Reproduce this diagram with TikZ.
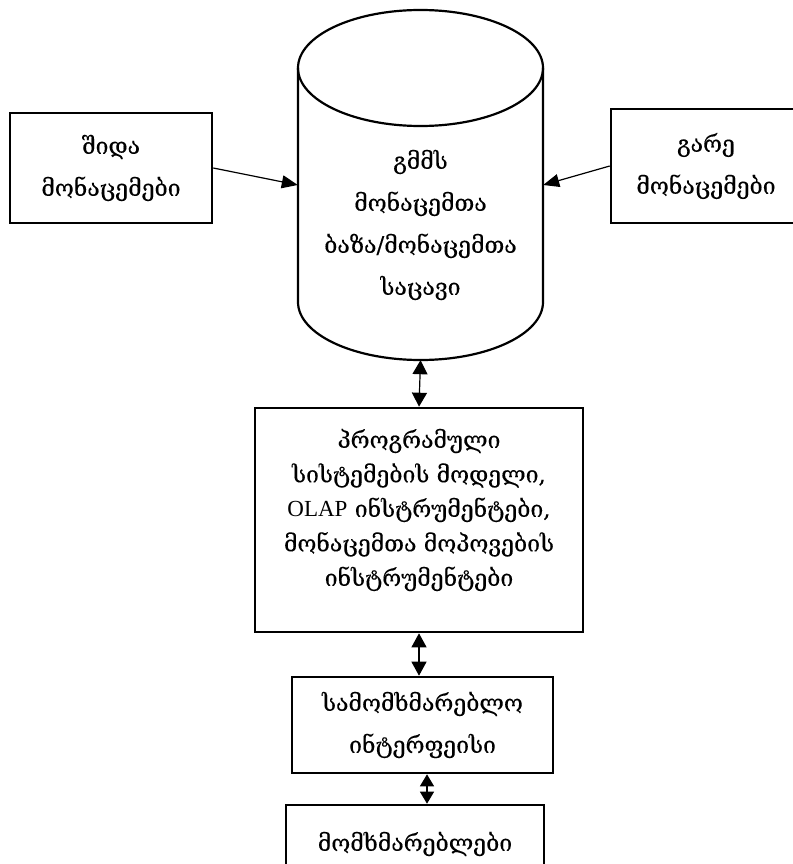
\documentclass[tikz,border=0pt]{standalone}
\usepackage{fontspec}
\setmainfont{DejaVu Serif}[FakeBold=0.3]
\newfontfamily\latinfont{Liberation Serif}
\usetikzlibrary{arrows.meta}
\begin{document}
\begin{tikzpicture}[x=1pt,y=-1pt,
  box/.style={draw, line width=2.6pt, inner sep=0pt, align=center},
  txt/.style={align=center, inner sep=0pt, font=\fontsize{23}{42}\selectfont},
  tight/.style={align=center, inner sep=0pt, font=\fontsize{23}{34.5}\selectfont},
  vtip/.tip={Triangle[length=14pt,width=15pt]},
  stip/.tip={Triangle[length=12pt,width=14pt]},
  htip/.tip={Triangle[length=16pt,width=13pt]},
  link/.style={line width=1.2pt, -htip},
  both/.style={line width=1.2pt, vtip-vtip},
  shortboth/.style={line width=1.2pt, stip-stip}]
\useasboundingbox (0,0) rectangle (792,864);

% side data sources
\node[box, txt, minimum width=202pt, minimum height=110pt] (inner) at (111,168) {შიდა\\მონაცემები};
\node[box, txt, minimum width=190pt, minimum height=114pt] (outer) at (706,166) {გარე\\მონაცემები};

% database cylinder
\node[minimum width=245pt, minimum height=350pt, inner sep=0pt] (db) at (420.5,185) {};
\draw[line width=2.2pt] (420.5,68) ellipse [x radius=122.5, y radius=58];
\draw[line width=2.2pt] (298,68) -- (298,302)
  .. controls (298,334) and (352.8,360) .. (420.5,360)
  .. controls (488.2,360) and (543,334) .. (543,302) -- (543,68);
\node[txt] (dbtext) at (420.5,225) {გმმს\\მონაცემთა\\ბაზა/მონაცემთა\\საცავი};

% tools block
\node[box, minimum width=328pt, minimum height=224pt] (tools) at (419,520) {};
\node[tight] (toolstext) at (419,510) {პროგრამული\\სისტემების მოდელი,\\{\latinfont OLAP} ინსტრუმენტები,\\მონაცემთა მოპოვების\\ინსტრუმენტები};

% user interface
\node[box, txt, minimum width=261pt, minimum height=96pt] (ui) at (422.5,725) {სამომხმარებლო\\ინტერფეისი};

% users
\node[box, minimum width=258pt, minimum height=80pt] (users) at (415,845) {};
\node[txt] (userstext) at (415,844) {მომხმარებლები};

% connectors
\draw[link] (inner.east) -- (db.west);
\draw[link] (outer.west) -- (db.east);
\draw[both] (db.south) -- (tools.north);
\draw[both] (tools.south) -- (tools.south |- ui.north);
\draw[shortboth] ([xshift=4.5pt]ui.south) -- ([xshift=4.5pt]ui.south |- users.north);
\end{tikzpicture}
\end{document}
